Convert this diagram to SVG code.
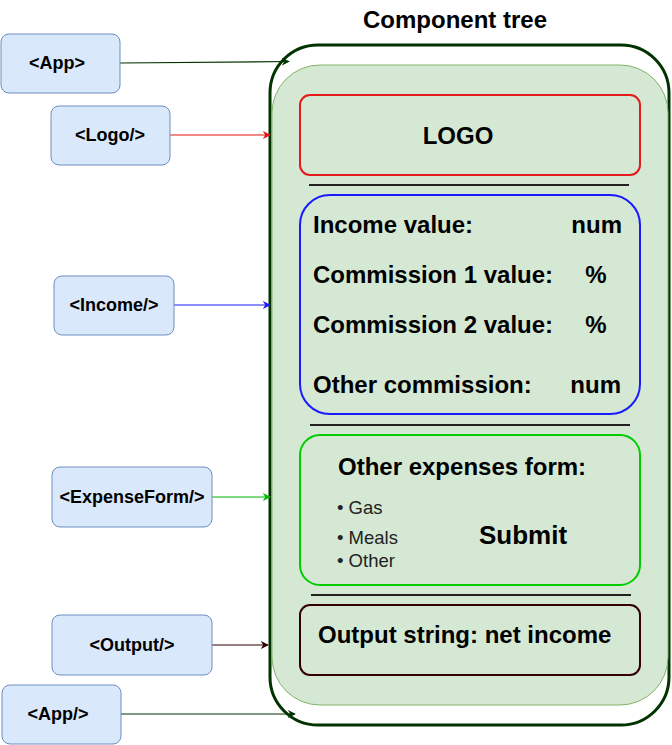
<svg xmlns="http://www.w3.org/2000/svg" width="672" height="745" viewBox="0 0 672 745">
<style>
.node rect{fill:#dae8fc;stroke:#6c8ebf;stroke-width:1}
.node text{font-family:"Liberation Sans",Arial,sans-serif;font-weight:bold;font-size:18px;fill:#000;text-anchor:middle}
.b{font-family:"Liberation Sans",Arial,sans-serif;font-weight:bold;fill:#000}
.r{font-family:"Liberation Sans",Arial,sans-serif;fill:#222}
.sep{stroke:#222;stroke-width:2}
.conn line{stroke-width:1.2;fill:none}
</style>
<defs>
<marker id="aG" viewBox="0 0 10 10" refX="9" refY="5" markerWidth="8" markerHeight="8" markerUnits="userSpaceOnUse" orient="auto"><path d="M0,0 L10,5 L0,10 L3,5 Z" fill="#003300"/></marker>
<marker id="aR" viewBox="0 0 10 10" refX="9" refY="5" markerWidth="8" markerHeight="8" markerUnits="userSpaceOnUse" orient="auto"><path d="M0,0 L10,5 L0,10 L3,5 Z" fill="#ee1111"/></marker>
<marker id="aB" viewBox="0 0 10 10" refX="9" refY="5" markerWidth="8" markerHeight="8" markerUnits="userSpaceOnUse" orient="auto"><path d="M0,0 L10,5 L0,10 L3,5 Z" fill="#1a1aff"/></marker>
<marker id="aL" viewBox="0 0 10 10" refX="9" refY="5" markerWidth="8" markerHeight="8" markerUnits="userSpaceOnUse" orient="auto"><path d="M0,0 L10,5 L0,10 L3,5 Z" fill="#00bb00"/></marker>
<marker id="aD" viewBox="0 0 10 10" refX="9" refY="5" markerWidth="8" markerHeight="8" markerUnits="userSpaceOnUse" orient="auto"><path d="M0,0 L10,5 L0,10 L3,5 Z" fill="#330000"/></marker>
</defs>
<rect width="672" height="745" fill="#fff"/>

<g id="title"><text class="b" x="455" y="28" font-size="24" text-anchor="middle">Component tree</text><text x="548" y="28" font-family="Liberation Sans,sans-serif" font-size="6" fill="#888">.</text></g>

<g id="component-tree">
<rect x="270" y="45" width="399" height="680" rx="48" ry="48" fill="#fff" stroke="#003300" stroke-width="3"/>
<rect x="272" y="65" width="396" height="640" rx="48" ry="48" fill="#d5e8d4" stroke="#82b366" stroke-width="1"/>
</g>

<g id="logo-box">
<rect x="300" y="95" width="340" height="80" rx="10" fill="none" stroke="#e51b1b" stroke-width="2"/>
<text class="b" x="458" y="144" font-size="24" text-anchor="middle">LOGO</text>
</g>
<line class="sep" x1="309" y1="185" x2="629" y2="185"/>

<g id="income-box">
<rect x="300" y="195" width="340" height="219" rx="30" fill="none" stroke="#1a1aff" stroke-width="2"/>
<text class="b" x="313" y="233" font-size="24">Income value:</text>
<text class="b" x="622" y="233" font-size="24" text-anchor="end">num</text>
<text class="b" x="313" y="283" font-size="24">Commission 1 value:</text>
<text class="b" x="596" y="283" font-size="24" text-anchor="middle">%</text>
<text class="b" x="313" y="333" font-size="24">Commission 2 value:</text>
<text class="b" x="596" y="333" font-size="24" text-anchor="middle">%</text>
<text class="b" x="313" y="393" font-size="24">Other commission:</text>
<text class="b" x="621" y="393" font-size="24" text-anchor="end">num</text>
</g>
<line class="sep" x1="310" y1="425" x2="630" y2="425"/>

<g id="expense-box">
<rect x="300" y="435" width="340" height="150" rx="20" fill="none" stroke="#00cc00" stroke-width="2"/>
<text class="b" x="338" y="475" font-size="24">Other expenses form:</text>
<text class="r" x="337" y="514" font-size="18.5">• Gas</text>
<text class="r" x="337" y="544" font-size="18.5">• Meals</text>
<text class="r" x="337" y="567" font-size="18.5">• Other</text>
<text class="b" x="523" y="544" font-size="26" text-anchor="middle">Submit</text>
</g>
<line class="sep" x1="311" y1="595" x2="631" y2="595"/>

<g id="output-box">
<rect x="300" y="605" width="340" height="70" rx="10" fill="none" stroke="#330000" stroke-width="2"/>
<text class="b" x="318" y="643" font-size="24">Output string: net income</text>
</g>

<g id="connectors" class="conn">
<line x1="120" y1="63" x2="289" y2="61.5" stroke="#003300" marker-end="url(#aG)"/>
<line x1="170" y1="135" x2="270" y2="135" stroke="#ee1111" marker-end="url(#aR)"/>
<line x1="174" y1="305" x2="270" y2="305" stroke="#1a1aff" marker-end="url(#aB)"/>
<line x1="212" y1="497" x2="270" y2="497" stroke="#00bb00" marker-end="url(#aL)"/>
<line x1="212" y1="645" x2="268" y2="645" stroke="#330000" marker-end="url(#aD)"/>
<line x1="121" y1="714" x2="295" y2="714" stroke="#003300" marker-end="url(#aG)"/>
</g>

<g id="app" class="node"><rect x="1" y="34" width="119" height="59" rx="8"/><text x="57" y="69">&lt;App&gt;</text></g>
<g id="logo" class="node"><rect x="51" y="106" width="119" height="59" rx="8"/><text x="110" y="141">&lt;Logo/&gt;</text></g>
<g id="income" class="node"><rect x="54" y="276" width="120" height="59" rx="8"/><text x="114" y="311">&lt;Income/&gt;</text></g>
<g id="expenseform" class="node"><rect x="52" y="467" width="160" height="60" rx="8"/><text x="132" y="503">&lt;ExpenseForm/&gt;</text></g>
<g id="output" class="node"><rect x="52" y="615" width="160" height="60" rx="8"/><text x="132" y="651">&lt;Output/&gt;</text></g>
<g id="app-close" class="node"><rect x="2" y="685" width="119" height="59" rx="8"/><text x="58" y="720">&lt;App/&gt;</text></g>
</svg>
